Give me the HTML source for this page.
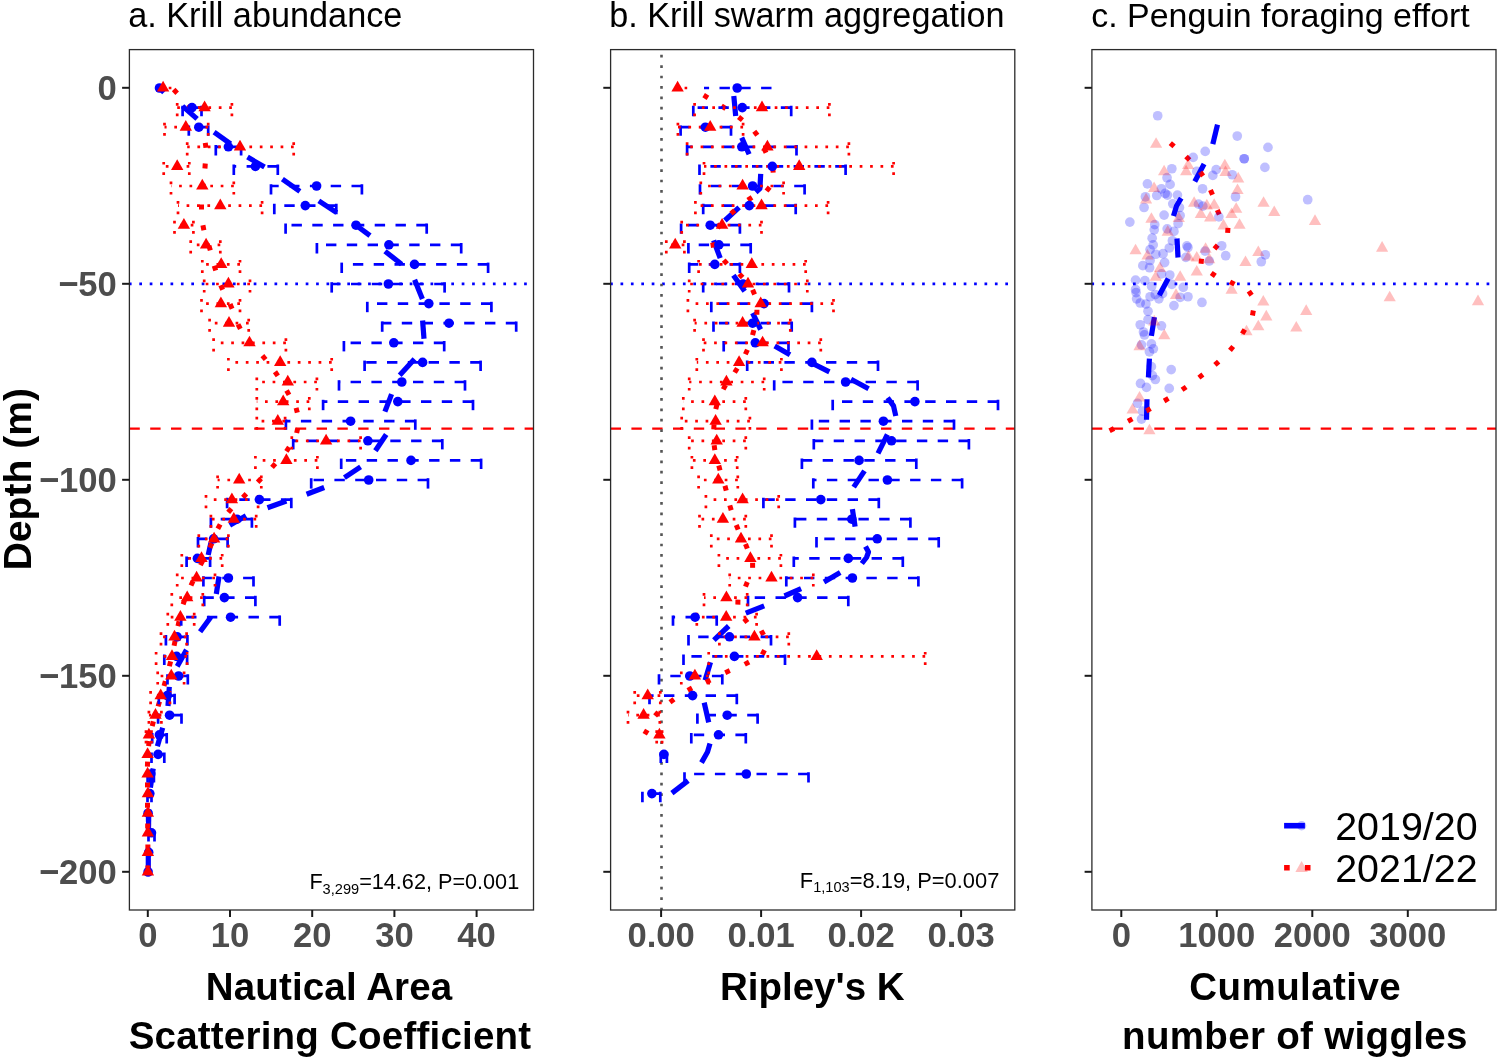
<!DOCTYPE html><html><head><meta charset="utf-8"><style>html,body{margin:0;padding:0;background:#fff;}svg{display:block;will-change:transform;}text{font-family:"Liberation Sans",sans-serif;}</style></head><body><svg width="1498" height="1060" viewBox="0 0 1498 1060"><rect width="1498" height="1060" fill="#fff"/><text x="128.2" y="26.7"  font-size="34.25" fill="#000">a. Krill abundance</text><text x="609.3" y="26.7"  font-size="34.2" fill="#000">b. Krill swarm aggregation</text><text x="1091.2" y="26.7"  font-size="33.95" fill="#000">c. Penguin foraging effort</text><defs><clipPath id="cp0"><rect x="129.4" y="49.6" width="404.1" height="860.4"/></clipPath><clipPath id="cp1"><rect x="610.6" y="49.6" width="404.19999999999993" height="860.4"/></clipPath><clipPath id="cp2"><rect x="1091.9" y="49.6" width="404.0999999999999" height="860.4"/></clipPath></defs><g clip-path="url(#cp0)"><path d="M128.9 283.8H533.5" stroke="#0000FF" stroke-width="2.7" stroke-dasharray="2.7 7.7" fill="none"/><path d="M129.4 428.7H533.5" stroke="#FF0000" stroke-width="2.3" stroke-dasharray="10.4 10.4" fill="none"/></g><g clip-path="url(#cp1)"><path d="M610.1 283.8H1014.8" stroke="#0000FF" stroke-width="2.7" stroke-dasharray="2.7 7.7" fill="none"/><path d="M610.6 428.7H1014.8" stroke="#FF0000" stroke-width="2.3" stroke-dasharray="10.4 10.4" fill="none"/><path d="M661.5 910.35V49.6" stroke="#555" stroke-width="2.6" stroke-dasharray="2.7 7.7" fill="none"/></g><g clip-path="url(#cp2)"><path d="M1091.4 283.8H1496.0" stroke="#0000FF" stroke-width="2.7" stroke-dasharray="2.7 7.7" fill="none"/><path d="M1091.9 428.7H1496.0" stroke="#FF0000" stroke-width="2.3" stroke-dasharray="10.4 10.4" fill="none"/></g><g clip-path="url(#cp0)"><g stroke="#0000FF" stroke-width="5.2" fill="none" stroke-linejoin="round"><path d="M159.5 88L164 92.5"/><path d="M182.5 106.1L197.1 118.9"/><path d="M214.1 132.1L230.6 143.9"/><path d="M247.5 157.1L264.5 167"/><path d="M282.4 179.2L299.9 191.4"/><path d="M318.8 200.8L336.7 212.6"/><path d="M353 223L370 235.7"/><path d="M385 251.2L401.6 264.2"/><path d="M414.6 279.8L422.4 299"/><path d="M422.6 320.5L424 338.8"/><path d="M414.5 359L399.7 375.2"/><path d="M391.6 394.1L384.9 411.6"/><path d="M386.2 434.5L375.4 450.7"/><path d="M360.6 466.9L344.4 477.7"/><path d="M324.2 487.5L306.6 494.3"/><path d="M286.4 501L267.5 507.8"/><path d="M246 515.8L229.8 525.3"/><path d="M210.9 542.8L208.2 555"/><path d="M219 576.5L216.3 594"/><path d="M210.9 617L200.1 631.8"/><path d="M186.5 649.9L177.2 666.4"/><path d="M169.3 686.9L168 706"/><path d="M162.7 727.8L157.4 746.3"/><path d="M153.2 768.5L150.4 787.7"/><path d="M148.8 809.6L148.5 830.4"/><path d="M148.3 851.2L148.3 872"/></g><g fill="#FF0000"><rect x="172.9" y="88.9" width="5.0" height="5.0" transform="rotate(45.96 175.4 91.4)"/><rect x="187.5" y="104" width="5.0" height="5.0" transform="rotate(55.14 190 106.5)"/><rect x="197" y="123.5" width="5.0" height="5.0" transform="rotate(68.1 199.5 126)"/><rect x="203.1" y="142.8" width="5.0" height="5.0" transform="rotate(82.03 205.6 145.3)"/><rect x="202.6" y="163.5" width="5.0" height="5.0" transform="rotate(93.66 205.1 166)"/><rect x="200.5" y="183.5" width="5.0" height="5.0" transform="rotate(95.02 203 186)"/><rect x="199" y="204.5" width="5.0" height="5.0" transform="rotate(89.45 201.5 207)"/><rect x="200.9" y="225.3" width="5.0" height="5.0" transform="rotate(78.82 203.4 227.8)"/><rect x="207.1" y="245.5" width="5.0" height="5.0" transform="rotate(73.98 209.6 248)"/><rect x="212.5" y="265.7" width="5.0" height="5.0" transform="rotate(72.97 215 268.2)"/><rect x="219.2" y="285" width="5.0" height="5.0" transform="rotate(67.15 221.7 287.5)"/><rect x="228.6" y="303.9" width="5.0" height="5.0" transform="rotate(65.89 231.1 306.4)"/><rect x="236.7" y="324.1" width="5.0" height="5.0" transform="rotate(62.56 239.2 326.6)"/><rect x="247.5" y="340.3" width="5.0" height="5.0" transform="rotate(51.34 250 342.8)"/><rect x="261.5" y="355.1" width="5.0" height="5.0" transform="rotate(49.58 264 357.6)"/><rect x="273.9" y="371.3" width="5.0" height="5.0" transform="rotate(55.86 276.4 373.8)"/><rect x="285.3" y="390.2" width="5.0" height="5.0" transform="rotate(60.85 287.8 392.7)"/><rect x="294.2" y="407.7" width="5.0" height="5.0" transform="rotate(76.04 296.7 410.2)"/><rect x="294.7" y="428" width="5.0" height="5.0" transform="rotate(102.82 297.2 430.5)"/><rect x="285.3" y="446.8" width="5.0" height="5.0" transform="rotate(123.88 287.8 449.3)"/><rect x="271.2" y="463" width="5.0" height="5.0" transform="rotate(132.4 273.7 465.5)"/><rect x="256.9" y="477.9" width="5.0" height="5.0" transform="rotate(134.03 259.4 480.4)"/><rect x="242.1" y="493.1" width="5.0" height="5.0" transform="rotate(134.52 244.6 495.6)"/><rect x="227.3" y="508" width="5.0" height="5.0" transform="rotate(129.55 229.8 510.5)"/><rect x="216.5" y="524.1" width="5.0" height="5.0" transform="rotate(118.37 219 526.6)"/><rect x="208.4" y="543" width="5.0" height="5.0" transform="rotate(115.68 210.9 545.5)"/><rect x="199" y="560.5" width="5.0" height="5.0" transform="rotate(116.57 201.5 563)"/><rect x="189.5" y="580.8" width="5.0" height="5.0" transform="rotate(114.29 192 583.3)"/><rect x="181.4" y="599.5" width="5.0" height="5.0" transform="rotate(108.48 183.9 602)"/><rect x="176" y="621.2" width="5.0" height="5.0" transform="rotate(102.69 178.5 623.7)"/><rect x="172.1" y="640.8" width="5.0" height="5.0" transform="rotate(101.97 174.6 643.3)"/><rect x="167.5" y="661.3" width="5.0" height="5.0" transform="rotate(103.8 170 663.8)"/><rect x="162.2" y="681.1" width="5.0" height="5.0" transform="rotate(105.57 164.7 683.6)"/><rect x="156.3" y="701.5" width="5.0" height="5.0" transform="rotate(106.49 158.8 704)"/><rect x="150.3" y="721.3" width="5.0" height="5.0" transform="rotate(104.04 152.8 723.8)"/><rect x="146.4" y="741.1" width="5.0" height="5.0" transform="rotate(97.49 148.9 743.6)"/><rect x="145" y="761.6" width="5.0" height="5.0" transform="rotate(91.94 147.5 764.1)"/><rect x="145" y="782.4" width="5.0" height="5.0" transform="rotate(90 147.5 784.9)"/><rect x="145" y="802.7" width="5.0" height="5.0" transform="rotate(89.72 147.5 805.2)"/><rect x="145.2" y="823.5" width="5.0" height="5.0" transform="rotate(89.45 147.7 826)"/><rect x="145.4" y="844.5" width="5.0" height="5.0" transform="rotate(89.73 147.9 847)"/><rect x="145.4" y="865.5" width="5.0" height="5.0" transform="rotate(90 147.9 868)"/></g><g stroke="#0000FF" stroke-width="2.7" stroke-dasharray="10.4 10.4" fill="none"><path d="M201.5 116.2V99"/><path d="M201.5 107.6H182.6"/><path d="M182.6 116.2V99"/><path d="M208.2 135.8V118.6"/><path d="M208.2 127.2H188.8"/><path d="M188.8 135.8V118.6"/><path d="M241.1 155.4V138.2"/><path d="M241.1 146.8H215.8"/><path d="M215.8 155.4V138.2"/><path d="M277.8 175V157.8"/><path d="M277.8 166.4H233.8"/><path d="M233.8 175V157.8"/><path d="M361.9 194.6V177.4"/><path d="M361.9 186H271"/><path d="M271 194.6V177.4"/><path d="M336.3 214.2V197"/><path d="M336.3 205.6H274.3"/><path d="M274.3 214.2V197"/><path d="M426.7 233.8V216.6"/><path d="M426.7 225.2H285.6"/><path d="M285.6 233.8V216.6"/><path d="M461.2 253.4V236.2"/><path d="M461.2 244.8H316.9"/><path d="M316.9 253.4V236.2"/><path d="M488.1 273V255.8"/><path d="M488.1 264.4H341.7"/><path d="M341.7 273V255.8"/><path d="M444.6 292.6V275.4"/><path d="M444.6 284H331.7"/><path d="M331.7 292.6V275.4"/><path d="M491.4 312.2V295"/><path d="M491.4 303.6H367.3"/><path d="M367.3 312.2V295"/><path d="M516.2 331.8V314.6"/><path d="M516.2 323.2H382.2"/><path d="M382.2 331.8V314.6"/><path d="M444.2 351.4V334.2"/><path d="M444.2 342.8H343.9"/><path d="M343.9 351.4V334.2"/><path d="M480.6 371V353.8"/><path d="M480.6 362.4H364.6"/><path d="M364.6 371V353.8"/><path d="M465 390.6V373.4"/><path d="M465 382H339"/><path d="M339 390.6V373.4"/><path d="M473 410.2V393"/><path d="M473 401.6H323.1"/><path d="M323.1 410.2V393"/><path d="M415.3 429.8V412.6"/><path d="M415.3 421.2H285.9"/><path d="M285.9 429.8V412.6"/><path d="M442.3 449.4V432.2"/><path d="M442.3 440.8H293.2"/><path d="M293.2 449.4V432.2"/><path d="M481.1 469V451.8"/><path d="M481.1 460.4H341.2"/><path d="M341.2 469V451.8"/><path d="M428 488.6V471.4"/><path d="M428 480H311.2"/><path d="M311.2 488.6V471.4"/><path d="M291.3 508.2V491"/><path d="M291.3 499.6H227.1"/><path d="M227.1 508.2V491"/><path d="M251.9 527.8V510.6"/><path d="M251.9 519.2H210.9"/><path d="M210.9 527.8V510.6"/><path d="M227.6 547.4V530.2"/><path d="M227.6 538.8H198"/><path d="M198 547.4V530.2"/><path d="M210.1 567V549.8"/><path d="M210.1 558.4H186.6"/><path d="M186.6 567V549.8"/><path d="M253.5 586.6V569.4"/><path d="M253.5 578H203.4"/><path d="M203.4 586.6V569.4"/><path d="M255.4 606.2V589"/><path d="M255.4 597.6H204.2"/><path d="M204.2 606.2V589"/><path d="M279.7 625.8V608.6"/><path d="M279.7 617.2H181.2"/><path d="M181.2 625.8V608.6"/><path d="M187.4 645.4V628.2"/><path d="M187.4 636.8H165.9"/><path d="M165.9 645.4V628.2"/><path d="M187.1 665V647.8"/><path d="M187.1 656.4H164.3"/><path d="M164.3 665V647.8"/><path d="M187.8 684.6V667.4"/><path d="M187.8 676H167.5"/><path d="M167.5 684.6V667.4"/><path d="M174.6 704.2V687"/><path d="M174.6 695.6H158.8"/><path d="M158.8 704.2V687"/><path d="M181.5 723.8V706.6"/><path d="M181.5 715.2H158.1"/><path d="M158.1 723.8V706.6"/><path d="M166.7 743.4V726.2"/><path d="M166.7 734.8H152.2"/><path d="M152.2 743.4V726.2"/><path d="M164.3 763V745.8"/><path d="M164.3 754.4H151.5"/><path d="M151.5 763V745.8"/><path d="M153.9 782.6V765.4"/><path d="M153.9 774H147.6"/><path d="M147.6 782.6V765.4"/><path d="M151.5 802.2V785"/><path d="M151.5 793.6H147.5"/><path d="M147.5 802.2V785"/><path d="M149.2 821.8V804.6"/><path d="M149.2 813.2H147.2"/><path d="M147.2 821.8V804.6"/><path d="M154.5 841.4V824.2"/><path d="M154.5 832.8H148.5"/><path d="M148.5 841.4V824.2"/></g><g stroke="#FF0000" stroke-width="2.7" stroke-dasharray="2.7 7.7" fill="none"><path d="M171.4 88H160"/><path d="M231.9 116.2V99"/><path d="M231.9 107.6H177.2"/><path d="M177.2 116.2V99"/><path d="M208.2 135.8V118.6"/><path d="M208.2 127.2H164.5"/><path d="M164.5 135.8V118.6"/><path d="M293.7 155.4V138.2"/><path d="M293.7 146.8H187.2"/><path d="M187.2 155.4V138.2"/><path d="M189.3 175V157.8"/><path d="M189.3 166.4H163.7"/><path d="M163.7 175V157.8"/><path d="M233.8 194.6V177.4"/><path d="M233.8 186H171"/><path d="M171 194.6V177.4"/><path d="M262.1 214.2V197"/><path d="M262.1 205.6H178"/><path d="M178 214.2V197"/><path d="M193.4 233.8V216.6"/><path d="M193.4 225.2H174.5"/><path d="M174.5 233.8V216.6"/><path d="M220.3 253.4V236.2"/><path d="M220.3 244.8H190.7"/><path d="M190.7 253.4V236.2"/><path d="M240 273V255.8"/><path d="M240 264.4H202.3"/><path d="M202.3 273V255.8"/><path d="M250 292.6V275.4"/><path d="M250 284H204.2"/><path d="M204.2 292.6V275.4"/><path d="M240 312.2V295"/><path d="M240 303.6H201.5"/><path d="M201.5 312.2V295"/><path d="M248.7 331.8V314.6"/><path d="M248.7 323.2H209.6"/><path d="M209.6 331.8V314.6"/><path d="M285.9 351.4V334.2"/><path d="M285.9 342.8H213.6"/><path d="M213.6 351.4V334.2"/><path d="M331.7 371V353.8"/><path d="M331.7 362.4H228.4"/><path d="M228.4 371V353.8"/><path d="M316.9 390.6V373.4"/><path d="M316.9 382H256.8"/><path d="M256.8 390.6V373.4"/><path d="M309.3 410.2V393"/><path d="M309.3 401.6H256.8"/><path d="M256.8 410.2V393"/><path d="M285.1 429.8V412.6"/><path d="M285.1 421.2H256.8"/><path d="M256.8 429.8V412.6"/><path d="M360.6 449.4V432.2"/><path d="M360.6 440.8H291.8"/><path d="M291.8 449.4V432.2"/><path d="M317.4 469V451.8"/><path d="M317.4 460.4H255.4"/><path d="M255.4 469V451.8"/><path d="M261.3 488.6V471.4"/><path d="M261.3 480H217.6"/><path d="M217.6 488.6V471.4"/><path d="M258.1 508.2V491"/><path d="M258.1 499.6H206"/><path d="M206 508.2V491"/><path d="M256.2 527.8V510.6"/><path d="M256.2 519.2H210.9"/><path d="M210.9 527.8V510.6"/><path d="M228.4 547.4V530.2"/><path d="M228.4 538.8H198.8"/><path d="M198.8 547.4V530.2"/><path d="M222.2 567V549.8"/><path d="M222.2 558.4H181.8"/><path d="M181.8 567V549.8"/><path d="M215 586.6V569.4"/><path d="M215 578H177.2"/><path d="M177.2 586.6V569.4"/><path d="M202.8 606.2V589"/><path d="M202.8 597.6H171.8"/><path d="M171.8 606.2V589"/><path d="M194.2 625.8V608.6"/><path d="M194.2 617.2H167.8"/><path d="M167.8 625.8V608.6"/><path d="M186.6 645.4V628.2"/><path d="M186.6 636.8H161"/><path d="M161 645.4V628.2"/><path d="M187.1 665V647.8"/><path d="M187.1 656.4H156.1"/><path d="M156.1 665V647.8"/><path d="M184.1 684.6V667.4"/><path d="M184.1 676H157.7"/><path d="M157.7 684.6V667.4"/><path d="M170 704.2V687"/><path d="M170 695.6H150.6"/><path d="M150.6 704.2V687"/><path d="M161.4 723.8V706.6"/><path d="M161.4 715.2H148.9"/><path d="M148.9 723.8V706.6"/><path d="M151.5 743.4V726.2"/><path d="M151.5 734.8H146"/><path d="M146 743.4V726.2"/></g><g fill="#0000FF"><circle cx="159.5" cy="88" r="4.8"/><circle cx="192" cy="107.6" r="4.8"/><circle cx="198.8" cy="127.2" r="4.8"/><circle cx="228.4" cy="146.8" r="4.8"/><circle cx="255.4" cy="166.4" r="4.8"/><circle cx="316.6" cy="186" r="4.8"/><circle cx="305.3" cy="205.6" r="4.8"/><circle cx="356" cy="225.2" r="4.8"/><circle cx="388.9" cy="244.8" r="4.8"/><circle cx="414.5" cy="264.4" r="4.8"/><circle cx="388.4" cy="284" r="4.8"/><circle cx="428.8" cy="303.6" r="4.8"/><circle cx="449" cy="323.2" r="4.8"/><circle cx="393.8" cy="342.8" r="4.8"/><circle cx="422.6" cy="362.4" r="4.8"/><circle cx="401.8" cy="382" r="4.8"/><circle cx="397.8" cy="401.6" r="4.8"/><circle cx="350.6" cy="421.2" r="4.8"/><circle cx="367.9" cy="440.8" r="4.8"/><circle cx="411" cy="460.4" r="4.8"/><circle cx="368.7" cy="480" r="4.8"/><circle cx="259.4" cy="499.6" r="4.8"/><circle cx="237" cy="519.2" r="4.8"/><circle cx="213.6" cy="538.8" r="4.8"/><circle cx="197.4" cy="558.4" r="4.8"/><circle cx="228.4" cy="578" r="4.8"/><circle cx="224.4" cy="597.6" r="4.8"/><circle cx="230.6" cy="617.2" r="4.8"/><circle cx="177.2" cy="636.8" r="4.8"/><circle cx="176.6" cy="656.4" r="4.8"/><circle cx="178.6" cy="676" r="4.8"/><circle cx="167.3" cy="695.6" r="4.8"/><circle cx="169.6" cy="715.2" r="4.8"/><circle cx="159.4" cy="734.8" r="4.8"/><circle cx="158.1" cy="754.4" r="4.8"/><circle cx="150.8" cy="774" r="4.8"/><circle cx="149.8" cy="793.6" r="4.8"/><circle cx="148.1" cy="813.2" r="4.8"/><circle cx="151.5" cy="832.8" r="4.8"/><circle cx="148.7" cy="852.4" r="4.8"/><circle cx="148.1" cy="872" r="4.8"/></g><g fill="#FF0000"><path d="M163.1 80.85L169.29 91.58L156.91 91.58Z"/><path d="M204.6 100.45L210.79 111.17L198.41 111.17Z"/><path d="M185.8 120.05L191.99 130.78L179.61 130.78Z"/><path d="M240 139.65L246.19 150.38L233.81 150.38Z"/><path d="M177.2 159.25L183.39 169.97L171.01 169.97Z"/><path d="M202.3 178.85L208.49 189.57L196.11 189.57Z"/><path d="M220.3 198.45L226.49 209.17L214.11 209.17Z"/><path d="M183.9 218.05L190.09 228.77L177.71 228.77Z"/><path d="M206.1 237.65L212.29 248.38L199.91 248.38Z"/><path d="M221.2 257.25L227.39 267.97L215.01 267.97Z"/><path d="M228.4 276.85L234.59 287.57L222.21 287.57Z"/><path d="M220.9 296.45L227.09 307.18L214.71 307.18Z"/><path d="M229 316.05L235.19 326.77L222.81 326.77Z"/><path d="M249.5 335.65L255.69 346.37L243.31 346.37Z"/><path d="M280.2 355.25L286.39 365.97L274.01 365.97Z"/><path d="M287.8 374.85L293.99 385.57L281.61 385.57Z"/><path d="M283.2 394.45L289.39 405.18L277.01 405.18Z"/><path d="M277.8 414.05L283.99 424.77L271.61 424.77Z"/><path d="M326.1 433.65L332.29 444.38L319.91 444.38Z"/><path d="M286.4 453.25L292.59 463.97L280.21 463.97Z"/><path d="M239.2 472.85L245.39 483.57L233.01 483.57Z"/><path d="M231.9 492.45L238.09 503.17L225.71 503.17Z"/><path d="M233.8 512.05L239.99 522.78L227.61 522.78Z"/><path d="M214.1 531.65L220.29 542.38L207.91 542.38Z"/><path d="M201.5 551.25L207.69 561.98L195.31 561.98Z"/><path d="M196.6 570.85L202.79 581.58L190.41 581.58Z"/><path d="M187.2 590.45L193.39 601.17L181.01 601.17Z"/><path d="M180.4 610.05L186.59 620.78L174.21 620.78Z"/><path d="M174.5 629.65L180.69 640.38L168.31 640.38Z"/><path d="M172 649.25L178.19 659.98L165.81 659.98Z"/><path d="M171.3 668.85L177.49 679.58L165.11 679.58Z"/><path d="M160.7 688.45L166.89 699.18L154.51 699.18Z"/><path d="M155.5 708.05L161.69 718.78L149.31 718.78Z"/><path d="M148.9 727.65L155.09 738.38L142.71 738.38Z"/><path d="M147.6 747.25L153.79 757.98L141.41 757.98Z"/><path d="M147.6 766.85L153.79 777.58L141.41 777.58Z"/><path d="M147.9 786.45L154.09 797.18L141.71 797.18Z"/><path d="M147.9 806.05L154.09 816.77L141.71 816.77Z"/><path d="M147.9 825.65L154.09 836.38L141.71 836.38Z"/><path d="M147.9 845.25L154.09 855.98L141.71 855.98Z"/><path d="M147.9 864.85L154.09 875.58L141.71 875.58Z"/></g></g><g clip-path="url(#cp1)"><g stroke="#0000FF" stroke-width="5.2" fill="none" stroke-linejoin="round"><path d="M733.8 96L735.7 116.1"/><path d="M741.7 137.6L749.1 154.2"/><path d="M760.7 173.8L759.9 188.5L755.8 192.2"/><path d="M739.1 207.3L724.9 220.5"/><path d="M713.6 240.3L720.2 258.2"/><path d="M733.4 275.2L744.7 291.2"/><path d="M752.6 313L760.6 329.5"/><path d="M774.7 346L790 354.7"/><path d="M809.2 361.7L829.4 371.9"/><path d="M851 379.2L868.6 388.7"/><path d="M887.6 397.8L893.5 405.9L895.8 416"/><path d="M887.4 434.5L878 453.4"/><path d="M864.5 470.9L853.7 487.1"/><path d="M852.4 509.1L855.1 526.6"/><path d="M865.5 546.5L868.5 552L866.5 557.5L861.8 563.5"/><path d="M840.2 572.5L824 581.9"/><path d="M801.1 588.7L784.5 596"/><path d="M764.2 605.8L745.8 613.2"/><path d="M728.7 626L713.9 640.2"/><path d="M710.5 662.3L705.1 680.2"/><path d="M704.2 702.6L708.7 722.3"/><path d="M710 743.5L707.5 752L701.5 762.6"/><path d="M688.1 780.6L671.9 793.1"/></g><g fill="#FF0000"><rect x="703.3" y="94" width="5.0" height="5.0" transform="rotate(31.01 705.8 96.5)"/><rect x="721.1" y="104.7" width="5.0" height="5.0" transform="rotate(32.49 723.6 107.2)"/><rect x="738" y="116.1" width="5.0" height="5.0" transform="rotate(39.03 740.5 118.6)"/><rect x="753.3" y="130.8" width="5.0" height="5.0" transform="rotate(52.47 755.8 133.3)"/><rect x="762.5" y="148" width="5.0" height="5.0" transform="rotate(64.95 765 150.5)"/><rect x="770.5" y="167.6" width="5.0" height="5.0" transform="rotate(85.41 773 170.1)"/><rect x="765.6" y="186.6" width="5.0" height="5.0" transform="rotate(128.83 768.1 189.1)"/><rect x="747.4" y="196.3" width="5.0" height="5.0" transform="rotate(146.95 749.9 198.8)"/><rect x="730.4" y="209.5" width="5.0" height="5.0" transform="rotate(138.64 732.9 212)"/><rect x="716.5" y="223.5" width="5.0" height="5.0" transform="rotate(120.96 719 226)"/><rect x="710.6" y="242.5" width="5.0" height="5.0" transform="rotate(79.92 713.1 245)"/><rect x="722.9" y="259.5" width="5.0" height="5.0" transform="rotate(47.84 725.4 262)"/><rect x="738.4" y="273.2" width="5.0" height="5.0" transform="rotate(46.87 740.9 275.7)"/><rect x="751.1" y="289.6" width="5.0" height="5.0" transform="rotate(66.39 753.6 292.1)"/><rect x="754.4" y="309.8" width="5.0" height="5.0" transform="rotate(90.57 756.9 312.3)"/><rect x="750.7" y="330.1" width="5.0" height="5.0" transform="rotate(104.81 753.2 332.6)"/><rect x="743.9" y="349.5" width="5.0" height="5.0" transform="rotate(114.47 746.4 352)"/><rect x="733.5" y="367.9" width="5.0" height="5.0" transform="rotate(122.01 736 370.4)"/><rect x="721.9" y="384.7" width="5.0" height="5.0" transform="rotate(118.43 724.4 387.2)"/><rect x="713.9" y="404.1" width="5.0" height="5.0" transform="rotate(104.85 716.4 406.6)"/><rect x="711.4" y="424.3" width="5.0" height="5.0" transform="rotate(92.65 713.9 426.8)"/><rect x="712" y="445.2" width="5.0" height="5.0" transform="rotate(82.38 714.5 447.7)"/><rect x="716.9" y="465.4" width="5.0" height="5.0" transform="rotate(74.67 719.4 467.9)"/><rect x="723.1" y="485.7" width="5.0" height="5.0" transform="rotate(74.45 725.6 488.2)"/><rect x="728" y="505.3" width="5.0" height="5.0" transform="rotate(73.48 730.5 507.8)"/><rect x="734.7" y="524.8" width="5.0" height="5.0" transform="rotate(67.56 737.2 527.3)"/><rect x="743.9" y="543.8" width="5.0" height="5.0" transform="rotate(67.94 746.4 546.3)"/><rect x="750.1" y="562.8" width="5.0" height="5.0" transform="rotate(90 752.6 565.3)"/><rect x="743.9" y="581.8" width="5.0" height="5.0" transform="rotate(111.77 746.4 584.3)"/><rect x="735.4" y="599.6" width="5.0" height="5.0" transform="rotate(90.95 737.9 602.1)"/><rect x="743.3" y="618" width="5.0" height="5.0" transform="rotate(51.41 745.8 620.5)"/><rect x="759.9" y="630.3" width="5.0" height="5.0" transform="rotate(61.11 762.4 632.8)"/><rect x="760.9" y="649.9" width="5.0" height="5.0" transform="rotate(117.02 763.4 652.4)"/><rect x="744.4" y="660.7" width="5.0" height="5.0" transform="rotate(151.86 746.9 663.2)"/><rect x="725" y="669.1" width="5.0" height="5.0" transform="rotate(155.23 727.5 671.6)"/><rect x="705.6" y="678.6" width="5.0" height="5.0" transform="rotate(154.92 708.1 681.1)"/><rect x="687.4" y="686.7" width="5.0" height="5.0" transform="rotate(151.38 689.9 689.2)"/><rect x="669.5" y="698.3" width="5.0" height="5.0" transform="rotate(143.35 672 700.8)"/><rect x="654.2" y="711.4" width="5.0" height="5.0" transform="rotate(129.63 656.7 713.9)"/><rect x="643.5" y="729.7" width="5.0" height="5.0" transform="rotate(120.31 646 732.2)"/></g><g stroke="#0000FF" stroke-width="2.7" stroke-dasharray="10.4 10.4" fill="none"><path d="M771.5 88H704"/><path d="M791.2 116.2V99"/><path d="M791.2 107.6H693.3"/><path d="M693.3 116.2V99"/><path d="M731 135.8V118.6"/><path d="M731 127.2H680.6"/><path d="M680.6 135.8V118.6"/><path d="M796.5 155.4V138.2"/><path d="M796.5 146.8H687.1"/><path d="M687.1 155.4V138.2"/><path d="M845.6 175V157.8"/><path d="M845.6 166.4H699.5"/><path d="M699.5 175V157.8"/><path d="M804.6 194.6V177.4"/><path d="M804.6 186H700"/><path d="M700 194.6V177.4"/><path d="M795.7 214.2V197"/><path d="M795.7 205.6H703.2"/><path d="M703.2 214.2V197"/><path d="M739.9 233.8V216.6"/><path d="M739.9 225.2H681.1"/><path d="M681.1 233.8V216.6"/><path d="M750.7 253.4V236.2"/><path d="M750.7 244.8H688.4"/><path d="M688.4 253.4V236.2"/><path d="M739.9 273V255.8"/><path d="M739.9 264.4H689.2"/><path d="M689.2 273V255.8"/><path d="M789 292.6V275.4"/><path d="M789 284H703.2"/><path d="M703.2 292.6V275.4"/><path d="M811.9 312.2V295"/><path d="M811.9 303.6H711.3"/><path d="M711.3 312.2V295"/><path d="M791.7 331.8V314.6"/><path d="M791.7 323.2H713.5"/><path d="M713.5 331.8V314.6"/><path d="M788.5 351.4V334.2"/><path d="M788.5 342.8H723.7"/><path d="M723.7 351.4V334.2"/><path d="M878 371V353.8"/><path d="M878 362.4H747.2"/><path d="M747.2 371V353.8"/><path d="M917.6 390.6V373.4"/><path d="M917.6 382H774.2"/><path d="M774.2 390.6V373.4"/><path d="M998 410.2V393"/><path d="M998 401.6H832.7"/><path d="M832.7 410.2V393"/><path d="M954 429.8V412.6"/><path d="M954 421.2H811.9"/><path d="M811.9 429.8V412.6"/><path d="M968.9 449.4V432.2"/><path d="M968.9 440.8H813.8"/><path d="M813.8 449.4V432.2"/><path d="M916.3 469V451.8"/><path d="M916.3 460.4H801.9"/><path d="M801.9 469V451.8"/><path d="M962.1 488.6V471.4"/><path d="M962.1 480H813.3"/><path d="M813.3 488.6V471.4"/><path d="M878.8 508.2V491"/><path d="M878.8 499.6H763.4"/><path d="M763.4 508.2V491"/><path d="M910.4 527.8V510.6"/><path d="M910.4 519.2H794.9"/><path d="M794.9 527.8V510.6"/><path d="M938.7 547.4V530.2"/><path d="M938.7 538.8H816.5"/><path d="M816.5 547.4V530.2"/><path d="M902.8 567V549.8"/><path d="M902.8 558.4H793.8"/><path d="M793.8 567V549.8"/><path d="M918.4 586.6V569.4"/><path d="M918.4 578H786.3"/><path d="M786.3 586.6V569.4"/><path d="M848.3 606.2V589"/><path d="M848.3 597.6H748"/><path d="M748 606.2V589"/><path d="M716.7 625.8V608.6"/><path d="M716.7 617.2H673"/><path d="M673 625.8V608.6"/><path d="M771 645.4V628.2"/><path d="M771 636.8H688.5"/><path d="M688.5 645.4V628.2"/><path d="M785 665V647.8"/><path d="M785 656.4H683.5"/><path d="M683.5 665V647.8"/><path d="M722.3 684.6V667.4"/><path d="M722.3 676H659"/><path d="M659 684.6V667.4"/><path d="M736.8 704.2V687"/><path d="M736.8 695.6H649.5"/><path d="M649.5 704.2V687"/><path d="M757.6 723.8V706.6"/><path d="M757.6 715.2H697.4"/><path d="M697.4 723.8V706.6"/><path d="M745.8 743.4V726.2"/><path d="M745.8 734.8H691.3"/><path d="M691.3 743.4V726.2"/><path d="M666.9 763V745.8"/><path d="M666.9 754.4H660.8"/><path d="M660.8 763V745.8"/><path d="M808.5 782.6V765.4"/><path d="M808.5 774H684.5"/><path d="M684.5 782.6V765.4"/><path d="M660.3 802.2V785"/><path d="M660.3 793.6H642.4"/><path d="M642.4 802.2V785"/></g><g stroke="#FF0000" stroke-width="2.7" stroke-dasharray="2.7 7.7" fill="none"><path d="M687.2 88H684.6"/><path d="M829.4 116.2V99"/><path d="M829.4 107.6H694.6"/><path d="M694.6 116.2V99"/><path d="M743.1 135.8V118.6"/><path d="M743.1 127.2H677.9"/><path d="M677.9 135.8V118.6"/><path d="M848.9 155.4V138.2"/><path d="M848.9 146.8H687.1"/><path d="M687.1 155.4V138.2"/><path d="M893.6 175V157.8"/><path d="M893.6 166.4H704"/><path d="M704 175V157.8"/><path d="M783.6 194.6V177.4"/><path d="M783.6 186H700.8"/><path d="M700.8 194.6V177.4"/><path d="M828.1 214.2V197"/><path d="M828.1 205.6H695.4"/><path d="M695.4 214.2V197"/><path d="M761.5 233.8V216.6"/><path d="M761.5 225.2H681.7"/><path d="M681.7 233.8V216.6"/><path d="M684.4 253.4V236.2"/><path d="M684.4 244.8H666.3"/><path d="M666.3 253.4V236.2"/><path d="M805.7 273V255.8"/><path d="M805.7 264.4H698.6"/><path d="M698.6 273V255.8"/><path d="M807.3 292.6V275.4"/><path d="M807.3 284H689.2"/><path d="M689.2 292.6V275.4"/><path d="M833.5 312.2V295"/><path d="M833.5 303.6H687.9"/><path d="M687.9 312.2V295"/><path d="M790.3 331.8V314.6"/><path d="M790.3 323.2H694.6"/><path d="M694.6 331.8V314.6"/><path d="M820.8 351.4V334.2"/><path d="M820.8 342.8H703.5"/><path d="M703.5 351.4V334.2"/><path d="M781.4 371V353.8"/><path d="M781.4 362.4H696.8"/><path d="M696.8 371V353.8"/><path d="M764.2 390.6V373.4"/><path d="M764.2 382H689.2"/><path d="M689.2 390.6V373.4"/><path d="M745.8 410.2V393"/><path d="M745.8 401.6H683.3"/><path d="M683.3 410.2V393"/><path d="M749.9 429.8V412.6"/><path d="M749.9 421.2H681.7"/><path d="M681.7 429.8V412.6"/><path d="M745.8 449.4V432.2"/><path d="M745.8 440.8H689.2"/><path d="M689.2 449.4V432.2"/><path d="M737.2 469V451.8"/><path d="M737.2 460.4H691.9"/><path d="M691.9 469V451.8"/><path d="M737.8 488.6V471.4"/><path d="M737.8 480H698.6"/><path d="M698.6 488.6V471.4"/><path d="M778.7 508.2V491"/><path d="M778.7 499.6H705.9"/><path d="M705.9 508.2V491"/><path d="M745.8 527.8V510.6"/><path d="M745.8 519.2H699.5"/><path d="M699.5 527.8V510.6"/><path d="M771.5 547.4V530.2"/><path d="M771.5 538.8H711.3"/><path d="M711.3 547.4V530.2"/><path d="M780.9 567V549.8"/><path d="M780.9 558.4H718.9"/><path d="M718.9 567V549.8"/><path d="M813.3 586.6V569.4"/><path d="M813.3 578H729.7"/><path d="M729.7 586.6V569.4"/><path d="M747.2 606.2V589"/><path d="M747.2 597.6H704"/><path d="M704 606.2V589"/><path d="M756.6 625.8V608.6"/><path d="M756.6 617.2H696.8"/><path d="M696.8 625.8V608.6"/><path d="M788.8 645.4V628.2"/><path d="M788.8 636.8H719.4"/><path d="M719.4 645.4V628.2"/><path d="M925.2 665V647.8"/><path d="M925.2 656.4H708.7"/><path d="M708.7 665V647.8"/><path d="M708.7 684.6V667.4"/><path d="M708.7 676H681.3"/><path d="M681.3 684.6V667.4"/><path d="M660.3 704.2V687"/><path d="M660.3 695.6H634.7"/><path d="M634.7 704.2V687"/><path d="M659.8 723.8V706.6"/><path d="M659.8 715.2H628"/><path d="M628 723.8V706.6"/><path d="M662.1 743.4V726.2"/><path d="M662.1 734.8H656.7"/><path d="M656.7 743.4V726.2"/></g><g fill="#0000FF"><circle cx="737.2" cy="88" r="4.8"/><circle cx="742.3" cy="107.6" r="4.8"/><circle cx="705.4" cy="127.2" r="4.8"/><circle cx="741.8" cy="146.8" r="4.8"/><circle cx="772.3" cy="166.4" r="4.8"/><circle cx="752.6" cy="186" r="4.8"/><circle cx="749.3" cy="205.6" r="4.8"/><circle cx="710.2" cy="225.2" r="4.8"/><circle cx="718.9" cy="244.8" r="4.8"/><circle cx="714.8" cy="264.4" r="4.8"/><circle cx="743.1" cy="284" r="4.8"/><circle cx="764" cy="303.6" r="4.8"/><circle cx="752.6" cy="323.2" r="4.8"/><circle cx="755.3" cy="342.8" r="4.8"/><circle cx="811.9" cy="362.4" r="4.8"/><circle cx="845.6" cy="382" r="4.8"/><circle cx="914.9" cy="401.6" r="4.8"/><circle cx="883.4" cy="421.2" r="4.8"/><circle cx="891.5" cy="440.8" r="4.8"/><circle cx="859.1" cy="460.4" r="4.8"/><circle cx="887.4" cy="480" r="4.8"/><circle cx="820.8" cy="499.6" r="4.8"/><circle cx="851.8" cy="519.2" r="4.8"/><circle cx="877.2" cy="538.8" r="4.8"/><circle cx="848.3" cy="558.4" r="4.8"/><circle cx="852.4" cy="578" r="4.8"/><circle cx="797.6" cy="597.6" r="4.8"/><circle cx="695.1" cy="617.2" r="4.8"/><circle cx="729.5" cy="636.8" r="4.8"/><circle cx="734.4" cy="656.4" r="4.8"/><circle cx="689.8" cy="676" r="4.8"/><circle cx="692.6" cy="695.6" r="4.8"/><circle cx="727.2" cy="715.2" r="4.8"/><circle cx="718.5" cy="734.8" r="4.8"/><circle cx="663.9" cy="754.4" r="4.8"/><circle cx="746.3" cy="774" r="4.8"/><circle cx="651.9" cy="793.6" r="4.8"/></g><g fill="#FF0000"><path d="M677.6 80.85L683.79 91.58L671.41 91.58Z"/><path d="M762 100.45L768.19 111.17L755.81 111.17Z"/><path d="M710.2 120.05L716.39 130.78L704.01 130.78Z"/><path d="M767.4 139.65L773.59 150.38L761.21 150.38Z"/><path d="M799.2 159.25L805.39 169.97L793.01 169.97Z"/><path d="M742.6 178.85L748.79 189.57L736.41 189.57Z"/><path d="M761.5 198.45L767.69 209.17L755.31 209.17Z"/><path d="M722.1 218.05L728.29 228.77L715.91 228.77Z"/><path d="M675.2 237.65L681.39 248.38L669.01 248.38Z"/><path d="M751.8 257.25L757.99 267.97L745.61 267.97Z"/><path d="M748 276.85L754.19 287.57L741.81 287.57Z"/><path d="M760.7 296.45L766.89 307.18L754.51 307.18Z"/><path d="M742.6 316.05L748.79 326.77L736.41 326.77Z"/><path d="M762.6 335.65L768.79 346.37L756.41 346.37Z"/><path d="M739.1 355.25L745.29 365.97L732.91 365.97Z"/><path d="M726.4 374.85L732.59 385.57L720.21 385.57Z"/><path d="M714.8 394.45L720.99 405.18L708.61 405.18Z"/><path d="M715.6 414.05L721.79 424.77L709.41 424.77Z"/><path d="M716.7 433.65L722.89 444.38L710.51 444.38Z"/><path d="M714.8 453.25L720.99 463.97L708.61 463.97Z"/><path d="M718.3 472.85L724.49 483.57L712.11 483.57Z"/><path d="M742.6 492.45L748.79 503.17L736.41 503.17Z"/><path d="M722.9 512.05L729.09 522.78L716.71 522.78Z"/><path d="M741 531.65L747.19 542.38L734.81 542.38Z"/><path d="M750.4 551.25L756.59 561.98L744.21 561.98Z"/><path d="M771.5 570.85L777.69 581.58L765.31 581.58Z"/><path d="M726.4 590.45L732.59 601.17L720.21 601.17Z"/><path d="M726.2 610.05L732.39 620.78L720.01 620.78Z"/><path d="M754.4 629.65L760.59 640.38L748.21 640.38Z"/><path d="M816.7 649.25L822.89 659.98L810.51 659.98Z"/><path d="M694.9 668.85L701.09 679.58L688.71 679.58Z"/><path d="M647.7 688.45L653.89 699.18L641.51 699.18Z"/><path d="M643.6 708.05L649.79 718.78L637.41 718.78Z"/><path d="M659.4 727.65L665.59 738.38L653.21 738.38Z"/></g></g><g clip-path="url(#cp2)"><g stroke="#0000FF" stroke-width="5.2" fill="none"><path d="M1217.5 124.7L1212.8 144.1"/><path d="M1204.1 164.1L1194.8 181.4"/><path d="M1181.2 198.2L1176.5 206L1173.5 216.1"/><path d="M1177 238.5L1178 257.5"/><path d="M1168.2 278.5L1159.3 295.3"/><path d="M1154.4 317.1L1151.4 335.9"/><path d="M1149.4 358.7L1148.4 377.5"/><path d="M1147 399.3L1146.5 419.8"/></g><g fill="#FF0000"><rect x="1169.7" y="142.2" width="5.0" height="5.0" transform="rotate(41.08 1172.2 144.7)"/><rect x="1185.3" y="155.8" width="5.0" height="5.0" transform="rotate(44.8 1187.8 158.3)"/><rect x="1199.1" y="171.4" width="5.0" height="5.0" transform="rotate(55.2 1201.6 173.9)"/><rect x="1209" y="189.9" width="5.0" height="5.0" transform="rotate(66.44 1211.5 192.4)"/><rect x="1215.8" y="209.7" width="5.0" height="5.0" transform="rotate(66.78 1218.3 212.2)"/><rect x="1225.3" y="227.9" width="5.0" height="5.0" transform="rotate(93.62 1227.8 230.4)"/><rect x="1213.6" y="244.5" width="5.0" height="5.0" transform="rotate(130.62 1216.1 247)"/><rect x="1198.8" y="258.8" width="5.0" height="5.0" transform="rotate(95.83 1201.3 261.3)"/><rect x="1210.8" y="271.9" width="5.0" height="5.0" transform="rotate(34.99 1213.3 274.4)"/><rect x="1229.8" y="280.5" width="5.0" height="5.0" transform="rotate(27 1232.3 283)"/><rect x="1247.7" y="290.7" width="5.0" height="5.0" transform="rotate(55.52 1250.2 293.2)"/><rect x="1250.4" y="310.5" width="5.0" height="5.0" transform="rotate(99.9 1252.9 313)"/><rect x="1241" y="329.1" width="5.0" height="5.0" transform="rotate(121.04 1243.5 331.6)"/><rect x="1229.1" y="345.9" width="5.0" height="5.0" transform="rotate(130.11 1231.6 348.4)"/><rect x="1214.3" y="360.8" width="5.0" height="5.0" transform="rotate(137.94 1216.8 363.3)"/><rect x="1198.4" y="373.6" width="5.0" height="5.0" transform="rotate(142.49 1200.9 376.1)"/><rect x="1181.6" y="385.9" width="5.0" height="5.0" transform="rotate(145.7 1184.1 388.4)"/><rect x="1163.8" y="397.2" width="5.0" height="5.0" transform="rotate(149.06 1166.3 399.7)"/><rect x="1145.9" y="407.3" width="5.0" height="5.0" transform="rotate(150.53 1148.4 409.8)"/><rect x="1127.7" y="417.6" width="5.0" height="5.0" transform="rotate(151.59 1130.2 420.1)"/><rect x="1109.3" y="427.1" width="5.0" height="5.0" transform="rotate(152.69 1111.8 429.6)"/></g><g fill="#0000FF" fill-opacity="0.25"><circle cx="1157.69" cy="115.75" r="4.85"/><circle cx="1237.26" cy="136.05" r="4.85"/><circle cx="1267.97" cy="147.4" r="4.85"/><circle cx="1205.22" cy="151.4" r="4.85"/><circle cx="1193.2" cy="157.41" r="4.85"/><circle cx="1244.2" cy="158.74" r="4.85"/><circle cx="1244.2" cy="158.74" r="4.85"/><circle cx="1264.9" cy="167.42" r="4.85"/><circle cx="1171.84" cy="168.76" r="4.85"/><circle cx="1216.17" cy="169.69" r="4.85"/><circle cx="1212.83" cy="175.43" r="4.85"/><circle cx="1196.81" cy="171.43" r="4.85"/><circle cx="1232.19" cy="174.77" r="4.85"/><circle cx="1167.03" cy="177.7" r="4.85"/><circle cx="1170.1" cy="184.38" r="4.85"/><circle cx="1147.41" cy="183.85" r="4.85"/><circle cx="1202.55" cy="188.79" r="4.85"/><circle cx="1161.43" cy="188.79" r="4.85"/><circle cx="1165.16" cy="193.46" r="4.85"/><circle cx="1167.43" cy="195.06" r="4.85"/><circle cx="1156.75" cy="195.46" r="4.85"/><circle cx="1177.45" cy="195.06" r="4.85"/><circle cx="1145.4" cy="196.8" r="4.85"/><circle cx="1235.52" cy="196.8" r="4.85"/><circle cx="1172.77" cy="203.87" r="4.85"/><circle cx="1198.54" cy="204.14" r="4.85"/><circle cx="1202.81" cy="206.14" r="4.85"/><circle cx="1179.45" cy="207.48" r="4.85"/><circle cx="1144.07" cy="207.48" r="4.85"/><circle cx="1164.1" cy="215.09" r="4.85"/><circle cx="1180.12" cy="215.49" r="4.85"/><circle cx="1218.84" cy="216.82" r="4.85"/><circle cx="1129.85" cy="222.07" r="4.85"/><circle cx="1154.75" cy="224.67" r="4.85"/><circle cx="1154.23" cy="229.85" r="4.85"/><circle cx="1152.16" cy="238.15" r="4.85"/><circle cx="1153.2" cy="244.9" r="4.85"/><circle cx="1150.08" cy="249.56" r="4.85"/><circle cx="1163.05" cy="253.71" r="4.85"/><circle cx="1155.79" cy="254.23" r="4.85"/><circle cx="1150.08" cy="260.46" r="4.85"/><circle cx="1164.61" cy="262.53" r="4.85"/><circle cx="1142.82" cy="265.64" r="4.85"/><circle cx="1149.56" cy="267.72" r="4.85"/><circle cx="1169.27" cy="248.01" r="4.85"/><circle cx="1167.2" cy="228.82" r="4.85"/><circle cx="1173.94" cy="231.41" r="4.85"/><circle cx="1172.39" cy="240.75" r="4.85"/><circle cx="1178.09" cy="223.63" r="4.85"/><circle cx="1186.91" cy="245.93" r="4.85"/><circle cx="1187.95" cy="247.49" r="4.85"/><circle cx="1185.87" cy="257.34" r="4.85"/><circle cx="1205.06" cy="251.12" r="4.85"/><circle cx="1209.21" cy="260.98" r="4.85"/><circle cx="1161.49" cy="273.94" r="4.85"/><circle cx="1169.79" cy="274.98" r="4.85"/><circle cx="1171.87" cy="284.32" r="4.85"/><circle cx="1135.56" cy="280.17" r="4.85"/><circle cx="1144.9" cy="280.68" r="4.85"/><circle cx="1151.64" cy="286.39" r="4.85"/><circle cx="1135.56" cy="289.5" r="4.85"/><circle cx="1136.08" cy="292.61" r="4.85"/><circle cx="1136.6" cy="298.84" r="4.85"/><circle cx="1140.23" cy="302.99" r="4.85"/><circle cx="1145.93" cy="304.02" r="4.85"/><circle cx="1150.08" cy="296.76" r="4.85"/><circle cx="1155.27" cy="294.69" r="4.85"/><circle cx="1162.53" cy="293.65" r="4.85"/><circle cx="1158.9" cy="298.84" r="4.85"/><circle cx="1183.28" cy="287.43" r="4.85"/><circle cx="1180.17" cy="297.28" r="4.85"/><circle cx="1187.95" cy="296.76" r="4.85"/><circle cx="1201.95" cy="302.47" r="4.85"/><circle cx="1173.94" cy="305.58" r="4.85"/><circle cx="1148.01" cy="311.29" r="4.85"/><circle cx="1148.01" cy="319.59" r="4.85"/><circle cx="1140.23" cy="324.77" r="4.85"/><circle cx="1161.49" cy="325.81" r="4.85"/><circle cx="1221.7" cy="245.8" r="4.85"/><circle cx="1225.7" cy="255.7" r="4.85"/><circle cx="1265.3" cy="254.8" r="4.85"/><circle cx="1261.3" cy="261.7" r="4.85"/><circle cx="1143.49" cy="331.98" r="4.85"/><circle cx="1144.48" cy="334.95" r="4.85"/><circle cx="1141.5" cy="344.85" r="4.85"/><circle cx="1151.41" cy="343.86" r="4.85"/><circle cx="1153.39" cy="348.81" r="4.85"/><circle cx="1149.43" cy="351.78" r="4.85"/><circle cx="1151.41" cy="366.63" r="4.85"/><circle cx="1171.21" cy="369.6" r="4.85"/><circle cx="1152.4" cy="375.54" r="4.85"/><circle cx="1155.37" cy="379.5" r="4.85"/><circle cx="1140.51" cy="383.47" r="4.85"/><circle cx="1146.46" cy="387.43" r="4.85"/><circle cx="1169.23" cy="388.42" r="4.85"/><circle cx="1137.54" cy="403.27" r="4.85"/><circle cx="1142.5" cy="411.19" r="4.85"/><circle cx="1141.5" cy="419.11" r="4.85"/><circle cx="1307.7" cy="199.7" r="4.85"/></g><g fill="#FF0000" fill-opacity="0.25"><path d="M1156.09 137.16L1162.19 147.73L1149.98 147.73Z"/><path d="M1188.13 158.52L1194.23 169.09L1182.02 169.09Z"/><path d="M1186.13 164.79L1192.23 175.37L1180.02 175.37Z"/><path d="M1164.1 164.79L1170.2 175.37L1157.99 175.37Z"/><path d="M1224.84 158.79L1230.95 169.36L1218.74 169.36Z"/><path d="M1225.51 165.46L1231.62 176.04L1219.41 176.04Z"/><path d="M1238.19 171.87L1244.3 182.44L1232.09 182.44Z"/><path d="M1237.53 183.49L1243.63 194.06L1231.42 194.06Z"/><path d="M1154.08 181.48L1160.19 192.06L1147.98 192.06Z"/><path d="M1146.07 192.83L1152.18 203.41L1139.97 203.41Z"/><path d="M1194.14 196.17L1200.24 206.74L1188.03 206.74Z"/><path d="M1206.82 198.84L1212.93 209.41L1200.71 209.41Z"/><path d="M1214.16 198.17L1220.27 208.75L1208.06 208.75Z"/><path d="M1236.19 202.18L1242.3 212.75L1230.09 212.75Z"/><path d="M1231.52 207.52L1237.62 218.09L1225.41 218.09Z"/><path d="M1263.56 196.17L1269.67 206.74L1257.46 206.74Z"/><path d="M1274.24 205.51L1280.35 216.09L1268.14 216.09Z"/><path d="M1200.81 207.52L1206.92 218.09L1194.71 218.09Z"/><path d="M1210.16 210.85L1216.26 221.43L1204.05 221.43Z"/><path d="M1151.41 212.19L1157.52 222.76L1145.31 222.76Z"/><path d="M1178.78 211.52L1184.89 222.1L1172.68 222.1Z"/><path d="M1223.51 218.87L1229.61 229.44L1217.4 229.44Z"/><path d="M1239.53 218.2L1245.64 228.77L1233.42 228.77Z"/><path d="M1135.56 243.75L1141.67 254.32L1129.45 254.32Z"/><path d="M1147.49 248.93L1153.6 259.51L1141.38 259.51Z"/><path d="M1167.72 225.07L1173.82 235.65L1161.61 235.65Z"/><path d="M1159.94 261.38L1166.04 271.96L1153.83 271.96Z"/><path d="M1155.79 270.2L1161.89 280.77L1149.68 280.77Z"/><path d="M1180.17 270.2L1186.27 280.77L1174.06 280.77Z"/><path d="M1176.02 288.35L1182.12 298.93L1169.91 298.93Z"/><path d="M1196.76 251.01L1202.87 261.58L1190.66 261.58Z"/><path d="M1196.76 265.01L1202.87 275.59L1190.66 275.59Z"/><path d="M1205.58 242.19L1211.69 252.76L1199.48 252.76Z"/><path d="M1209.21 252.56L1215.32 263.14L1203.11 263.14Z"/><path d="M1188.46 249.97L1194.57 260.54L1182.36 260.54Z"/><path d="M1154.23 314.8L1160.34 325.38L1148.13 325.38Z"/><path d="M1258.3 245.5L1264.41 256.07L1252.19 256.07Z"/><path d="M1245.5 255.4L1251.61 265.97L1239.39 265.97Z"/><path d="M1231.6 283.1L1237.71 293.67L1225.49 293.67Z"/><path d="M1263.3 295L1269.41 305.57L1257.19 305.57Z"/><path d="M1266.3 309.8L1272.41 320.38L1260.19 320.38Z"/><path d="M1258.3 319.7L1264.41 330.27L1252.19 330.27Z"/><path d="M1246.5 324.7L1252.61 335.27L1240.39 335.27Z"/><path d="M1164.28 328.66L1170.38 339.24L1158.17 339.24Z"/><path d="M1139.52 339.55L1145.63 350.13L1133.42 350.13Z"/><path d="M1139.52 391.04L1145.63 401.61L1133.42 401.61Z"/><path d="M1132.59 402.92L1138.7 413.49L1126.49 413.49Z"/><path d="M1149.43 423.71L1155.53 434.28L1143.32 434.28Z"/><path d="M1315 214.3L1321.11 224.88L1308.89 224.88Z"/><path d="M1382.1 241.1L1388.21 251.68L1375.99 251.68Z"/><path d="M1389.7 290.7L1395.81 301.27L1383.59 301.27Z"/><path d="M1478 294.6L1484.11 305.17L1471.89 305.17Z"/><path d="M1306.2 304.3L1312.31 314.88L1300.09 314.88Z"/><path d="M1296.3 320.9L1302.41 331.47L1290.19 331.47Z"/></g></g><rect x="129.4" y="49.6" width="404.1" height="860.4" fill="none" stroke="#2b2b2b" stroke-width="1.3"/><path d="M122.10000000000001 87.8H129.4" stroke="#1a1a1a" stroke-width="2.0"/><path d="M122.10000000000001 283.8H129.4" stroke="#1a1a1a" stroke-width="2.0"/><path d="M122.10000000000001 479.8H129.4" stroke="#1a1a1a" stroke-width="2.0"/><path d="M122.10000000000001 675.8H129.4" stroke="#1a1a1a" stroke-width="2.0"/><path d="M122.10000000000001 871.8H129.4" stroke="#1a1a1a" stroke-width="2.0"/><rect x="610.6" y="49.6" width="404.19999999999993" height="860.4" fill="none" stroke="#2b2b2b" stroke-width="1.3"/><path d="M603.3000000000001 87.8H610.6" stroke="#1a1a1a" stroke-width="2.0"/><path d="M603.3000000000001 283.8H610.6" stroke="#1a1a1a" stroke-width="2.0"/><path d="M603.3000000000001 479.8H610.6" stroke="#1a1a1a" stroke-width="2.0"/><path d="M603.3000000000001 675.8H610.6" stroke="#1a1a1a" stroke-width="2.0"/><path d="M603.3000000000001 871.8H610.6" stroke="#1a1a1a" stroke-width="2.0"/><rect x="1091.9" y="49.6" width="404.0999999999999" height="860.4" fill="none" stroke="#2b2b2b" stroke-width="1.3"/><path d="M1084.6000000000001 87.8H1091.9" stroke="#1a1a1a" stroke-width="2.0"/><path d="M1084.6000000000001 283.8H1091.9" stroke="#1a1a1a" stroke-width="2.0"/><path d="M1084.6000000000001 479.8H1091.9" stroke="#1a1a1a" stroke-width="2.0"/><path d="M1084.6000000000001 675.8H1091.9" stroke="#1a1a1a" stroke-width="2.0"/><path d="M1084.6000000000001 871.8H1091.9" stroke="#1a1a1a" stroke-width="2.0"/><path d="M147.8 910.0V917.0" stroke="#1a1a1a" stroke-width="2.0"/><text transform="translate(147.8 947.0) scale(1 1.04)"  font-size="34.6" font-weight="bold" fill="#4D4D4D" text-anchor="middle">0</text><path d="M230 910.0V917.0" stroke="#1a1a1a" stroke-width="2.0"/><text transform="translate(230 947.0) scale(1 1.04)"  font-size="34.6" font-weight="bold" fill="#4D4D4D" text-anchor="middle">10</text><path d="M312.2 910.0V917.0" stroke="#1a1a1a" stroke-width="2.0"/><text transform="translate(312.2 947.0) scale(1 1.04)"  font-size="34.6" font-weight="bold" fill="#4D4D4D" text-anchor="middle">20</text><path d="M394.4 910.0V917.0" stroke="#1a1a1a" stroke-width="2.0"/><text transform="translate(394.4 947.0) scale(1 1.04)"  font-size="34.6" font-weight="bold" fill="#4D4D4D" text-anchor="middle">30</text><path d="M476.6 910.0V917.0" stroke="#1a1a1a" stroke-width="2.0"/><text transform="translate(476.6 947.0) scale(1 1.04)"  font-size="34.6" font-weight="bold" fill="#4D4D4D" text-anchor="middle">40</text><path d="M661.1 910.0V917.0" stroke="#1a1a1a" stroke-width="2.0"/><text transform="translate(661.1 947.0) scale(1 1.04)"  font-size="34.6" font-weight="bold" fill="#4D4D4D" text-anchor="middle">0.00</text><path d="M761.1 910.0V917.0" stroke="#1a1a1a" stroke-width="2.0"/><text transform="translate(761.1 947.0) scale(1 1.04)"  font-size="34.6" font-weight="bold" fill="#4D4D4D" text-anchor="middle">0.01</text><path d="M861.1 910.0V917.0" stroke="#1a1a1a" stroke-width="2.0"/><text transform="translate(861.1 947.0) scale(1 1.04)"  font-size="34.6" font-weight="bold" fill="#4D4D4D" text-anchor="middle">0.02</text><path d="M961.1 910.0V917.0" stroke="#1a1a1a" stroke-width="2.0"/><text transform="translate(961.1 947.0) scale(1 1.04)"  font-size="34.6" font-weight="bold" fill="#4D4D4D" text-anchor="middle">0.03</text><path d="M1121.3 910.0V917.0" stroke="#1a1a1a" stroke-width="2.0"/><text transform="translate(1121.3 947.0) scale(1 1.04)"  font-size="34.6" font-weight="bold" fill="#4D4D4D" text-anchor="middle">0</text><path d="M1216.8 910.0V917.0" stroke="#1a1a1a" stroke-width="2.0"/><text transform="translate(1216.8 947.0) scale(1 1.04)"  font-size="34.6" font-weight="bold" fill="#4D4D4D" text-anchor="middle">1000</text><path d="M1312.3 910.0V917.0" stroke="#1a1a1a" stroke-width="2.0"/><text transform="translate(1312.3 947.0) scale(1 1.04)"  font-size="34.6" font-weight="bold" fill="#4D4D4D" text-anchor="middle">2000</text><path d="M1407.8 910.0V917.0" stroke="#1a1a1a" stroke-width="2.0"/><text transform="translate(1407.8 947.0) scale(1 1.04)"  font-size="34.6" font-weight="bold" fill="#4D4D4D" text-anchor="middle">3000</text><text transform="translate(116.8 99.9) scale(1 1.04)"  font-size="34.6" font-weight="bold" fill="#4D4D4D" text-anchor="end">0</text><text transform="translate(116.8 295.9) scale(1 1.04)"  font-size="34.6" font-weight="bold" fill="#4D4D4D" text-anchor="end">−50</text><text transform="translate(116.8 491.9) scale(1 1.04)"  font-size="34.6" font-weight="bold" fill="#4D4D4D" text-anchor="end">−100</text><text transform="translate(116.8 687.9) scale(1 1.04)"  font-size="34.6" font-weight="bold" fill="#4D4D4D" text-anchor="end">−150</text><text transform="translate(116.8 883.9) scale(1 1.04)"  font-size="34.6" font-weight="bold" fill="#4D4D4D" text-anchor="end">−200</text><text x="519.2" y="889.3"  font-size="21.65" fill="#000" text-anchor="end">F<tspan font-size="14.6" dy="4.4">3,299</tspan><tspan dy="-4.4">=14.62, P=0.001</tspan></text><text x="999.4" y="887.7"  font-size="21.9" fill="#000" text-anchor="end">F<tspan font-size="14.6" dy="4.4">1,103</tspan><tspan dy="-4.4">=8.19, P=0.007</tspan></text><text x="329.1" y="1000.2"  font-size="38.5" font-weight="bold" fill="#000" text-anchor="middle" letter-spacing="0.15">Nautical Area</text><text x="330" y="1048.8"  font-size="38.5" font-weight="bold" fill="#000" text-anchor="middle" letter-spacing="0.22">Scattering Coefficient</text><text x="812.3" y="1000.1"  font-size="38.5" font-weight="bold" fill="#000" text-anchor="middle">Ripley's K</text><text x="1295.2" y="1000.3"  font-size="38.5" font-weight="bold" fill="#000" text-anchor="middle" letter-spacing="0.42">Cumulative</text><text x="1294.9" y="1048.8"  font-size="38.5" font-weight="bold" fill="#000" text-anchor="middle" letter-spacing="0.33">number of wiggles</text><text transform="translate(31.0 479.2) rotate(-90)"  font-size="39.1" font-weight="bold" fill="#000" text-anchor="middle">Depth (m)</text><circle cx="1301.6" cy="825.7" r="4.7" fill="#0000FF" fill-opacity="0.25"/><path d="M1284.1 825.7H1318.9" stroke="#0000FF" stroke-width="5.6" stroke-dasharray="20.8 20.8"/><path d="M1301.6 861.1L1307.84 871.9L1295.36 871.9Z" fill="#FF0000" fill-opacity="0.25"/><path d="M1284.1 867.7H1318.9" stroke="#FF0000" stroke-width="5.6" stroke-dasharray="5.6 15.2"/><text x="1335.2" y="840"  font-size="39.4" fill="#000">2019/20</text><text x="1335.2" y="881.8"  font-size="39.4" fill="#000">2021/22</text></svg></body></html>
